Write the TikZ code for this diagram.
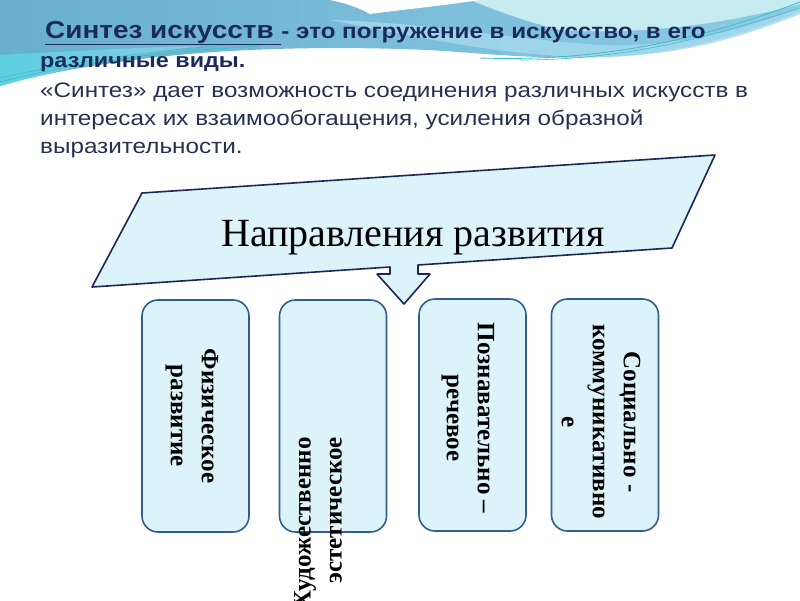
\documentclass[tikz,border=0pt]{standalone}
\usepackage{fontspec}
\setmainfont{Liberation Serif}
\newfontfamily\arialf{Liberation Sans}
\definecolor{navy}{HTML}{1B2A5A}
\definecolor{bodytext}{HTML}{243150}
\definecolor{boxfill}{HTML}{DCF4F9}
\definecolor{boxline}{HTML}{2F5F8F}
\definecolor{shapeline}{HTML}{1C2754}
\definecolor{waveA}{HTML}{68AFCF}
\definecolor{waveB}{HTML}{8CCBE4}
\definecolor{waveC}{HTML}{A6DAEE}
\definecolor{waveD}{HTML}{C6ECF1}
\definecolor{waveCyan}{HTML}{5CD3E6}
\definecolor{waveLine}{HTML}{3FBFC4}
\tikzset{
  dirbox/.style={draw=boxline, line width=1.6pt, fill=boxfill, rounded corners=16pt,
    minimum width=107pt, minimum height=232pt, inner sep=0pt},
  boxtext/.style={font=\bfseries\fontsize{25}{31}\selectfont, align=center, inner sep=0pt, text=black},
  headline/.style={font=\arialf\bfseries, text=navy, inner sep=0pt, anchor=base west},
  bodyline/.style={font=\arialf\fontsize{21}{26}\selectfont, text=bodytext, inner sep=0pt, anchor=base west}
}
\begin{document}
\begin{tikzpicture}[x=1pt,y=-1pt]
\clip (0,0) rectangle (800,600);
\fill[white] (0,0) rectangle (800,600);
% background waves
\shade[left color=waveA, right color=waveB]
  (0,0) -- (800,0) -- (800,12) .. controls (740,35) and (680,55) .. (600,57)
  .. controls (520,60) and (460,50) .. (400,49)
  .. controls (300,46) and (200,50) .. (120,62)
  .. controls (60,70) and (20,80) .. (0,86) -- cycle;
\shade[left color=waveCyan, right color=waveB, opacity=0.9]
  (0,55) .. controls (60,52) and (120,48) .. (200,46)
  .. controls (120,56) and (50,72) .. (0,86) -- cycle;
\fill[waveD]
  (470,0) -- (800,0) -- (800,4) .. controls (720,25) and (640,35) .. (560,30)
  .. controls (520,20) and (490,8) .. (470,0) -- cycle;
\fill[waveC, opacity=0.8]
  (330,20) .. controls (420,22) and (520,40) .. (600,45)
  .. controls (680,48) and (740,30) .. (800,8) -- (800,14)
  .. controls (740,38) and (680,56) .. (600,57)
  .. controls (520,58) and (430,40) .. (330,20) -- cycle;
\fill[white]
  (330,0) -- (480,0) .. controls (440,6) and (400,10) .. (370,14)
  .. controls (360,8) and (345,3) .. (330,0) -- cycle;
\draw[waveLine, line width=0.8pt] (0,82) .. controls (60,66) and (150,52) .. (260,46);
\draw[waveLine, line width=0.6pt] (0,78) .. controls (80,60) and (160,50) .. (240,44);
\draw[waveLine, line width=0.8pt] (480,58) .. controls (600,62) and (700,40) .. (800,2);
\draw[waveLine, line width=0.6pt] (520,60) .. controls (640,60) and (730,30) .. (800,8);
% header text
\node[headline] (h1) at (45,38) {\scalebox{1.14}[1]{\fontsize{24.5}{28}\selectfont\underline{Синтез искусств }\fontsize{21.2}{24}\selectfont- это погружение в искусство, в его}};
\node[headline] (h2) at (40,67) {\scalebox{1.14}[1]{\fontsize{20.5}{24}\selectfont различные виды.}};
\node[bodyline] (l1) at (40,97) {\scalebox{1.155}[1]{«Синтез» дает возможность соединения различных искусств в}};
\node[bodyline] (l2) at (40,125) {\scalebox{1.155}[1]{интересах их взаимообогащения, усиления образной}};
\node[bodyline] (l3) at (40,153) {\scalebox{1.155}[1]{выразительности.}};
% callout shape
\draw[draw=shapeline, line width=1.6pt, fill=boxfill, line join=round]
  (142,193) -- (715,155) -- (672,248) -- (418,265) -- (418,274) -- (430,274)
  -- (404,304) -- (377,274) -- (390,274) -- (390,267) -- (92,287) -- cycle;
\node[font=\fontsize{40}{46}\selectfont, inner sep=0pt, anchor=base] (title) at (413,246) {Направления развития};
% boxes
\node[dirbox] (b1) at (195.5,416) {};
\node[dirbox] (b2) at (333,416) {};
\node[dirbox] (b3) at (472.5,415) {};
\node[dirbox] (b4) at (605,415) {};
\node[boxtext, rotate=-90] (t1) at (192,416) {Физическое\\развитие};
\node[boxtext, rotate=90, anchor=east, align=right] (t2) at (318,437) {Художественно\\эстетическое};
\node[boxtext, rotate=-90] (t3) at (468,418) {Познавательно –\\речевое};
\node[boxtext, rotate=-90] (t4) at (601,422) {Социально -\\коммуникативно\\е};
\end{tikzpicture}
\end{document}
